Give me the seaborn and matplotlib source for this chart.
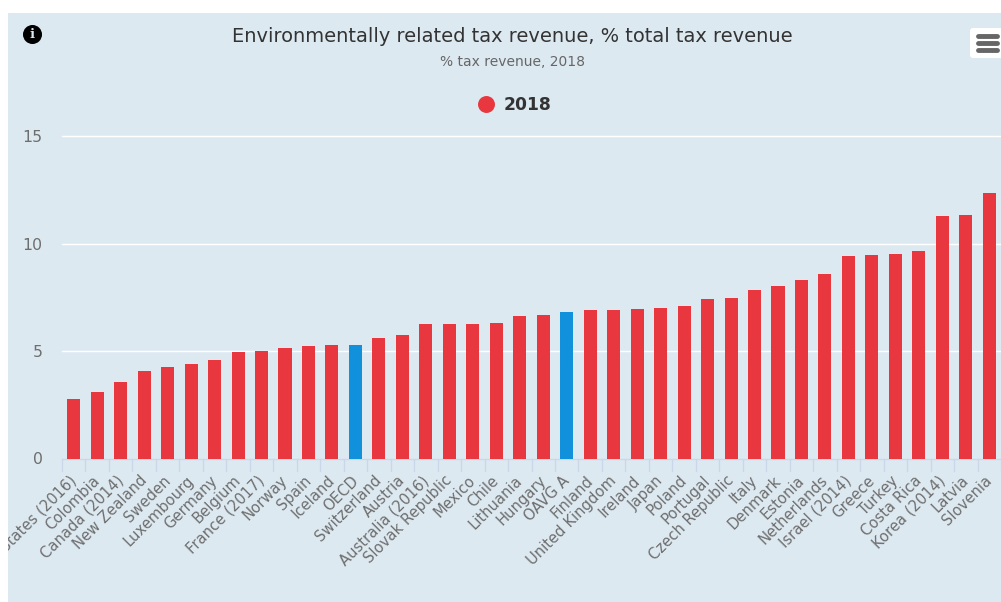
import matplotlib
matplotlib.use("Agg")
import matplotlib.pyplot as plt
from matplotlib.patches import Rectangle, FancyBboxPatch
from matplotlib.lines import Line2D
from matplotlib.transforms import Bbox, ScaledTranslation
import seaborn as sns
import pandas as pd

countries = ["United States (2016)", "Colombia", "Canada (2014)", "New Zealand", "Sweden", "Luxembourg",
             "Germany", "Belgium", "France (2017)", "Norway", "Spain", "Iceland", "OECD", "Switzerland",
             "Austria", "Australia (2016)", "Slovak Republic", "Mexico", "Chile", "Lithuania", "Hungary",
             "OAVG A", "Finland", "United Kingdom", "Ireland", "Japan", "Poland", "Portugal",
             "Czech Republic", "Italy", "Denmark", "Estonia", "Netherlands", "Israel (2014)", "Greece",
             "Turkey", "Costa Rica", "Korea (2014)", "Latvia", "Slovenia"]
values = [2.77, 3.1, 3.55, 4.07, 4.25, 4.4, 4.58, 4.95, 5.0, 5.15, 5.22, 5.27, 5.27, 5.6, 5.75, 6.25,
          6.27, 6.27, 6.3, 6.62, 6.67, 6.8, 6.9, 6.92, 6.95, 7.0, 7.1, 7.4, 7.47, 7.82, 8.03, 8.3, 8.57,
          9.4, 9.45, 9.5, 9.65, 11.3, 11.33, 12.33]
highlight = ["OECD", "OAVG A"]
y_ticks = [0, 5, 10, 15]
title = "Environmentally related tax revenue, % total tax revenue"
subtitle = "% tax revenue, 2018"
series_name = "2018"

RED, BLUE, BG = "#e8373f", "#1191dc", "#dde9f1"
W, H = 1001, 602
sns.set_theme(style="white")
plt.rcParams["font.family"] = ["DejaVu Sans"]

fig = plt.figure(figsize=(W / 100, H / 100), dpi=100, facecolor="white")
def fx(x): return x / W
def fy(y): return 1 - y / H

panel = Rectangle((fx(8), 0), 1 - fx(8), fy(13), transform=fig.transFigure, fc=BG, ec="none", zorder=-5)
fig.add_artist(panel)

ax = fig.add_axes([fx(62), fy(458.5), 1 - fx(62), fy(136) - fy(458.5)])
ax.patch.set_alpha(0)
df = pd.DataFrame({"country": countries, "value": values})
df["kind"] = ["hi" if c in highlight else "base" for c in countries]
sns.barplot(data=df, x="country", y="value", hue="kind", palette={"base": RED, "hi": BLUE},
            dodge=False, legend=False, width=0.555, ax=ax, saturation=1, zorder=3, linewidth=0)
ax.set_xlim(-0.5, len(countries) - 0.5)
ax.set_ylim(0, 15)
ax.set_xlabel("")
ax.set_ylabel("")
ax.set_yticks(y_ticks)
ax.set_yticklabels([str(v) for v in y_ticks])
ax.grid(False)
for v in y_ticks[1:]:
    ax.axhline(v, color="white", lw=1.0, zorder=1, clip_on=False)
for s in ["top", "right", "left"]:
    ax.spines[s].set_visible(False)
ax.spines["bottom"].set_color("#ccd6eb")
ax.spines["bottom"].set_linewidth(1)
ax.tick_params(axis="y", length=0, pad=14, labelsize=11.3, labelcolor="#6e6e6e")
ax.set_xticks(list(range(len(countries))))
ax.set_xticklabels(countries)
ax.tick_params(axis="x", length=0, pad=6, labelsize=10.6, labelcolor="#6e6e6e")
clip = Bbox([[8, 0], [W, H]])
shift = ScaledTranslation(-5 / 100, -6 / 100, fig.dpi_scale_trans)
for lab in ax.get_xticklabels():
    lab.set_rotation(45)
    lab.set_ha("right")
    lab.set_va("top")
    lab.set_rotation_mode("anchor")
    lab.set_transform(lab.get_transform() + shift)
    lab.set_clip_on(True)
    lab.set_clip_box(clip)
for i in range(len(countries) + 1):
    ax.plot([i - 0.5, i - 0.5], [0, -0.6], color="#ccd6eb", lw=1, clip_on=False, zorder=2)

fig.text(fx(512), fy(36), title, ha="center", va="center", fontsize=13.92, color="#333333")
fig.text(fx(512), fy(61.5), subtitle, ha="center", va="center", fontsize=10, color="#666666")

# legend
fig.add_artist(Line2D([fx(486)], [fy(103.5)], marker="o", ms=12.2, mfc=RED, mec="none", ls="none",
                      transform=fig.transFigure))
fig.text(fx(504), fy(104.5), series_name, ha="left", va="center", fontsize=12.3, fontweight="bold", color="#333333")

# info icon
fig.add_artist(Line2D([fx(32)], [fy(33.7)], marker="o", ms=13.7, mfc="black", mec="none", ls="none",
                      transform=fig.transFigure))
fig.text(fx(32), fy(34), "i", ha="center", va="center", fontsize=9.5, fontweight="bold", family="DejaVu Serif",
         color=BG)

# menu button
fig.add_artist(FancyBboxPatch((970, H - 58), 40, 30, boxstyle="round,pad=0,rounding_size=3",
                              transform=None, fc="white", ec="none"))
for y in [36, 43, 50]:
    fig.add_artist(Line2D([fx(977.5), fx(997)], [fy(y), fy(y)], color="#666666", lw=3.5, solid_capstyle="round",
                          transform=fig.transFigure))

fig.savefig("out.png", dpi=100, facecolor="white")
